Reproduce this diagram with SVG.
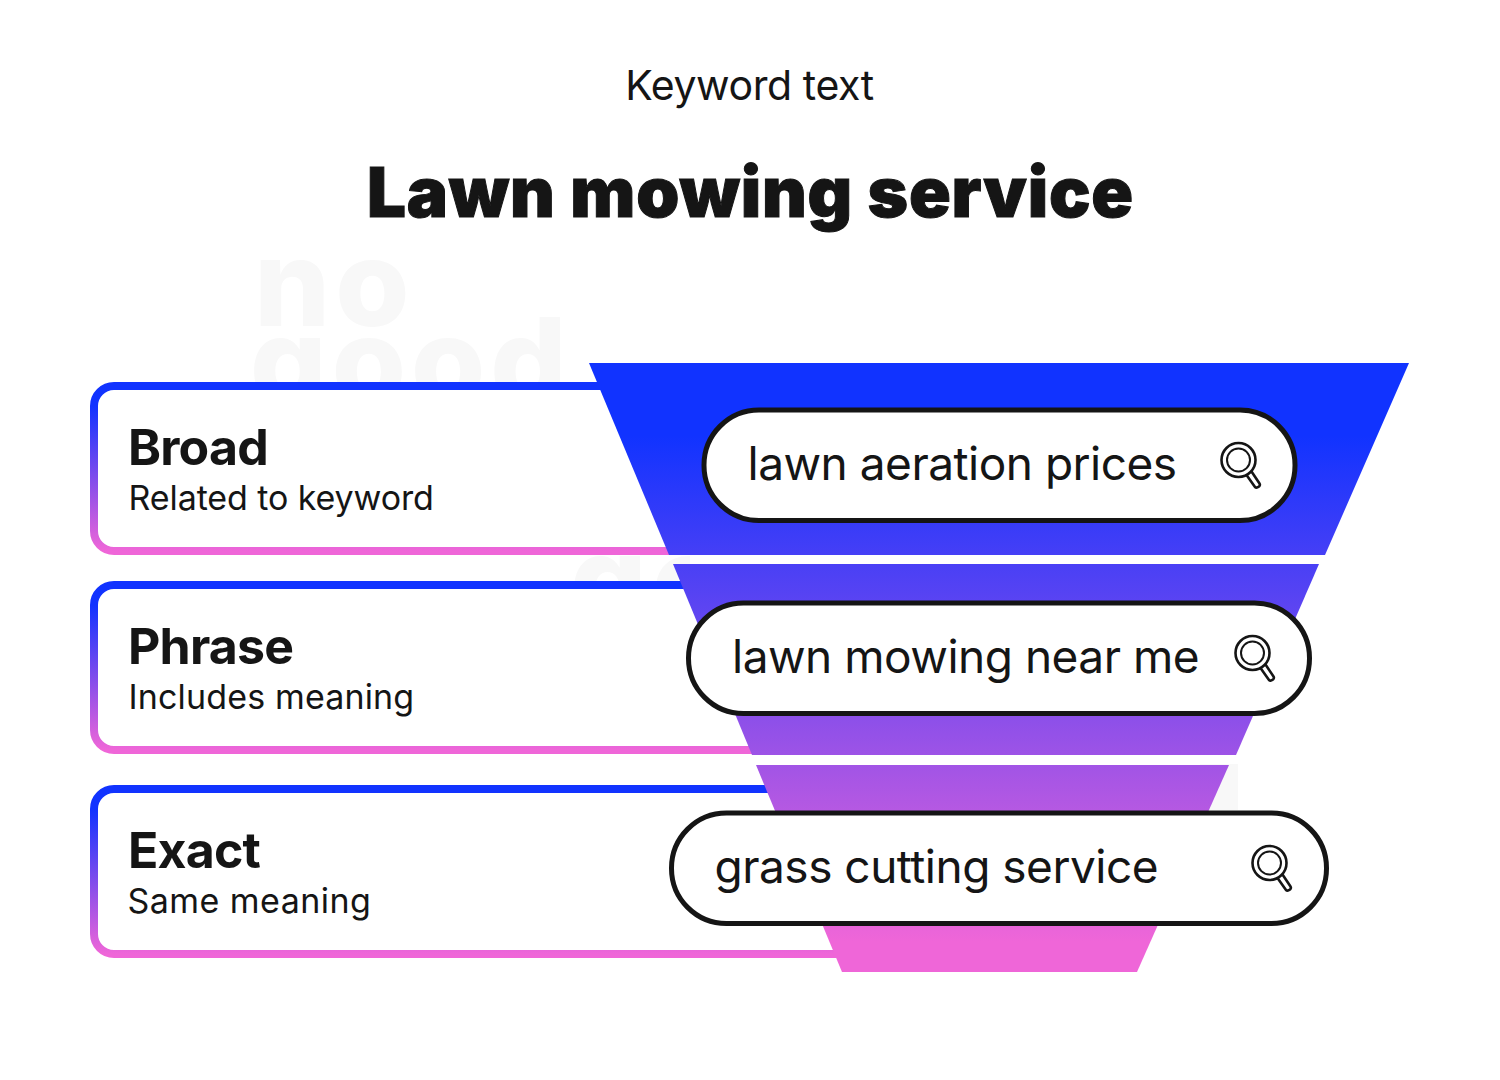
<svg xmlns="http://www.w3.org/2000/svg" width="1500" height="1080" viewBox="0 0 1500 1080">
<style>
text{font-family:Inter,"Liberation Sans",sans-serif;fill:#151515}
.h{font-size:50px;font-weight:700;letter-spacing:-.8px}
.s{font-size:34px;font-weight:400}
.q{font-size:46px;font-weight:400;letter-spacing:-.5px}
.wm{font-size:120px;font-weight:800;fill:#f8f8f8;letter-spacing:5px}
.box{fill:#fff;stroke:url(#bg);stroke-width:8}
.pill{fill:#fff;stroke:#151515;stroke-width:5}
.ic{fill:none;stroke:#151515}
</style>
<defs>
<linearGradient id="bg" x1="0" y1="0" x2="0" y2="1"><stop offset="0" stop-color="#1133ff"/><stop offset=".12" stop-color="#1133ff"/><stop offset="1" stop-color="#ef66d8"/></linearGradient>
<linearGradient id="fg" gradientUnits="userSpaceOnUse" x1="0" y1="363" x2="0" y2="972"><stop offset="0" stop-color="#1133ff"/><stop offset=".12" stop-color="#1133ff"/><stop offset=".95" stop-color="#ef66d8"/><stop offset="1" stop-color="#ef66d8"/></linearGradient>
<clipPath id="wmclip"><rect x="200" y="200" width="500" height="183"/></clipPath>
<clipPath id="wmclip2"><rect x="560" y="555" width="130" height="27"/></clipPath>
<g id="mag">
<circle class="ic" cx="0" cy="0" r="17" stroke-width="2.6"/>
<circle class="ic" cx="0" cy="0" r="11.5" stroke-width="2"/>
<path class="ic" stroke-width="2.6" stroke-linejoin="round" d="M8 15 L16.500 27 Q18 28.500 20.500 26.500 Q22 25 21 23.500 L13 11.500"/>
</g>
</defs>
<rect width="1500" height="1080" fill="#fff"/>
<g id="watermark">
<g clip-path="url(#wmclip)"><text class="wm" x="254" y="326">no</text><text class="wm" x="250" y="404">good</text></g>
<g clip-path="url(#wmclip2)"><text class="wm" x="570" y="622">go</text></g>
<rect x="1200" y="764" width="38" height="46" fill="#f8f8f8"/>
</g>
<g id="header">
<text x="749.500" y="100" text-anchor="middle" font-size="41" letter-spacing="-.4">Keyword text</text>
<text x="750.500" y="217" text-anchor="middle" font-size="69" font-weight="900" letter-spacing=".8" stroke="#151515" stroke-width="1">Lawn mowing service</text>
</g>
<g id="node-broad"><rect class="box" x="94" y="386" width="640" height="165" rx="20"/><text class="h" x="128" y="465" letter-spacing="-.6">Broad</text><text class="s" x="128.500" y="510" letter-spacing="-.1">Related to keyword</text></g>
<g id="node-phrase"><rect class="box" x="94" y="585" width="740" height="165" rx="20"/><text class="h" x="128" y="664">Phrase</text><text class="s" x="128.500" y="709" letter-spacing=".15">Includes meaning</text></g>
<g id="node-exact"><rect class="box" x="94" y="789" width="840" height="165" rx="20"/><text class="h" x="128" y="868">Exact</text><text class="s" x="127.500" y="913" letter-spacing=".45">Same meaning</text></g>
<g id="funnel">
<polygon fill="url(#fg)" points="589,363 1409,363 1325,555 669,555"/>
<polygon fill="url(#fg)" points="673,564 1319,564 1236,755 752,755"/>
<polygon fill="url(#fg)" points="756,765 1229,765 1137,972 842,972"/>
</g>
<g id="pill-1"><rect class="pill" x="704" y="410" width="591" height="110.500" rx="55"/><text class="q" x="747.500" y="480">lawn aeration prices</text><use href="#mag" x="1238.500" y="460"/></g>
<g id="pill-2"><rect class="pill" x="688.500" y="603" width="621" height="110.500" rx="55"/><text class="q" x="732" y="673" letter-spacing="-.6">lawn mowing near me</text><use href="#mag" x="1252.500" y="653"/></g>
<g id="pill-3"><rect class="pill" x="671.500" y="813" width="655" height="110.500" rx="55"/><text class="q" x="714.500" y="883" letter-spacing="-.4">grass cutting service</text><use href="#mag" x="1269.500" y="863"/></g>
</svg>
